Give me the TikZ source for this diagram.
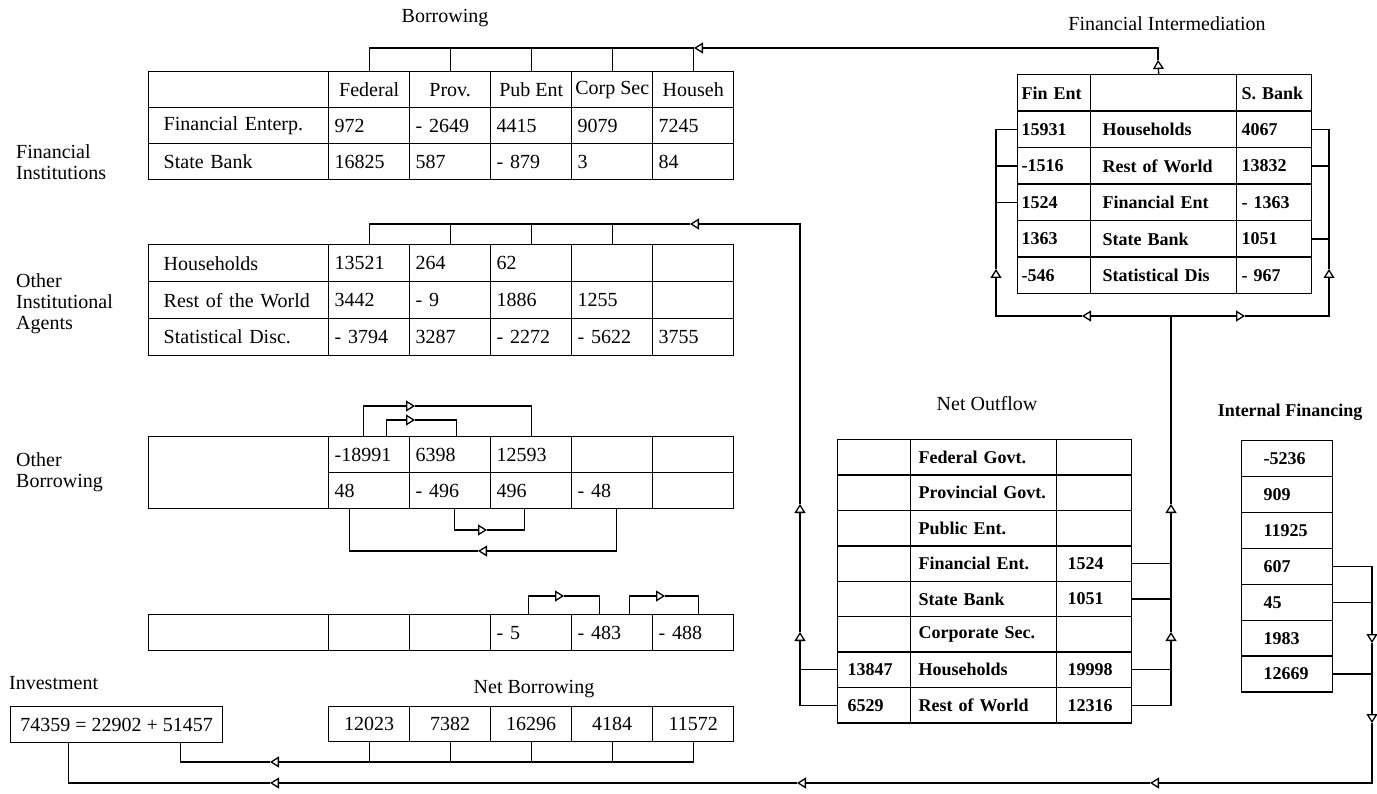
\documentclass[tikz,border=0pt]{standalone}
\usepackage{fontspec}
\setmainfont{Liberation Serif}
\usetikzlibrary{arrows.meta}
\tikzset{
  wire/.style  = {line width=1.3pt},
  flow/.style  = {line width=1.3pt, -{Triangle[open,length=9pt,width=11pt]}},
  cell/.style  = {draw, line width=1.4pt, anchor=north west, inner xsep=6pt, inner ysep=0pt,
                  text width=#1, minimum height=36pt, align=left},
  hcell/.style = {draw, line width=1.4pt, anchor=north west, inner sep=0pt,
                  minimum width=81pt, minimum height=36pt},
  heavy/.style = {font=\fontsize{18}{20}\selectfont\bfseries},
  sidelbl/.style = {anchor=west, align=left, inner sep=0pt}
}

\begin{document}
\begin{tikzpicture}[x=1pt,y=-1pt,font=\fontsize{20}{21}\selectfont]
  \useasboundingbox (0,0) rectangle (1377,794);

  % titles and side labels
  \node (ttlbor) at (445,18) {Borrowing};
  \node (ttlfi) at (1167,24) {Financial Intermediation};
  \node (ttlno) at (987,404) {Net Outflow};
  \node[font=\fontsize{18}{20}\selectfont\bfseries] (ttlif) at (1290,412) {Internal Financing};
  \node (ttlnb) at (534,689) {Net Borrowing};
  \node[sidelbl] (ttlinv) at (9,683) {Investment};
  \node[sidelbl] (lblfi) at (16,162) {Financial\\Institutions};
  \node[sidelbl] (lbloia) at (16,304) {Other\\Institutional\\Agents};
  \node[sidelbl] (lblob) at (16,472) {Other\\Borrowing};

  % borrowing of financial institutions
  \node[cell=150pt, inner xsep=15pt] (b00) at (148,71) {};
  \foreach \t [count=\i] in {Federal,Prov.,Pub Ent,Corp Sec,Househ}
    \node[hcell] (b0\i) at ({247+81*\i},71) {\t};
  \foreach \r/\lab/\vals in {1/Financial Enterp./{972,- 2649,4415,9079,7245},
                             2/State Bank/{16825,587,- 879,3,84}} {
    \node[cell=150pt, inner xsep=15pt] (b\r0) at (148,{71+36*\r}) {\lab};
    \foreach \v [count=\i] in \vals
      \node[cell=69pt] (b\r\i) at ({247+81*\i},{71+36*\r}) {\v};
  }

  % other institutional agents
  \foreach \r/\lab/\vals in {1/Households/{13521,264,62,{},{}},
                             2/Rest of the World/{3442,- 9,1886,1255,{}},
                             3/Statistical Disc./{- 3794,3287,- 2272,- 5622,3755}} {
    \node[cell=150pt, inner xsep=15pt, minimum height=37pt] (a\r0) at (148,{207+37*\r}) {\lab};
    \foreach \v [count=\i] in \vals
      \node[cell=69pt, minimum height=37pt] (a\r\i) at ({247+81*\i},{207+37*\r}) {\v};
  }

  % other borrowing
  \node[cell=150pt, inner xsep=15pt, minimum height=72pt] (o0) at (148,436) {};
  \foreach \r/\vals in {1/{-18991,6398,12593,{},{}}, 2/{48,- 496,496,- 48,{}}}
    \foreach \v [count=\i] in \vals
      \node[cell=69pt] (o\r\i) at ({247+81*\i},{400+36*\r}) {\v};

  \node[cell=150pt, inner xsep=15pt] (r0) at (148,614) {};
  \foreach \v [count=\i] in {{},{},- 5,- 483,- 488}
    \node[cell=69pt] (r\i) at ({247+81*\i},614) {\v};

  % investment and net borrowing
  \node[draw, line width=1.4pt, anchor=north west, inner sep=0pt,
        minimum width=212pt, minimum height=36pt] (inv) at (10,706) {74359 = 22902 + 51457};
  \foreach \v [count=\i] in {12023,7382,16296,4184,11572}
    \node[hcell, minimum height=35pt] (nb\i) at ({247+81*\i},706) {\v};

  % financial intermediation
  \foreach \r/\a/\b/\c in {0/Fin Ent/{}/S. Bank, 1/15931/Households/4067,
                           2/-1516/Rest of World/13832, 3/1524/Financial Ent/- 1363,
                           4/1363/State Bank/1051, 5/-546/Statistical Dis/- 967} {
    \node[cell=65pt, inner xsep=4pt, minimum height=36.5pt, heavy] (fl\r) at (1017,{74+36.5*\r}) {\a};
    \node[cell=122pt, inner xsep=12pt, minimum height=36.5pt, heavy] (fm\r) at (1090,{74+36.5*\r}) {\b};
    \node[cell=65pt, inner xsep=5pt, minimum height=36.5pt, heavy] (fr\r) at (1236,{74+36.5*\r}) {\c};
  }

  % net outflow
  \foreach \r/\a/\b/\c in {1/{}/Federal Govt./{}, 2/{}/Provincial Govt./{},
                           3/{}/Public Ent./{}, 4/{}/Financial Ent./1524,
                           5/{}/State Bank/1051, 6/{}/Corporate Sec./{},
                           7/13847/Households/19998, 8/6529/Rest of World/12316} {
    \node[cell=53pt, inner xsep=10pt, minimum height=35.4pt, heavy] (nl\r) at (837,{403.6+35.4*\r}) {\a};
    \node[cell=130pt, inner xsep=8pt, minimum height=35.4pt, heavy] (nm\r) at (910,{403.6+35.4*\r}) {\b};
    \node[cell=53pt, inner xsep=11pt, minimum height=35.4pt, heavy] (nr\r) at (1056,{403.6+35.4*\r}) {\c};
  }

  % internal financing
  \foreach \v [count=\r] in {-5236,909,11925,607,45,1983,12669}
    \node[cell=47pt, inner xsep=22pt, minimum height=35.9pt, heavy] (if\r) at (1241,{404.1+35.9*\r}) {\v};

  % connectors: financial intermediation to borrowing
  \coordinate (fiup) at (1158,60);
  \coordinate (btop) at (694,48);
  \draw[flow] ([xshift=-5pt]fm0.north) -- (fiup);
  \draw[flow] (fiup) |- (btop);
  \draw[wire] (btop) -- (btop -| b01.north);
  \foreach \i in {1,...,5}
    \draw[wire] (b0\i.north) -- (b0\i.north |- btop);

  % net outflow, left side, to other institutional agents
  \coordinate (atop) at (690,224);
  \coordinate (nla1) at (800,632);
  \coordinate (nla2) at (800,504);
  \draw[flow] (nl8.west) -| (nla1);
  \draw[flow] (nla1) -- (nla2);
  \draw[flow] (nla2) |- (atop);
  \draw[wire] (atop) -- (atop -| a11.north);
  \foreach \i in {1,...,4}
    \draw[wire] (a1\i.north) -- (a1\i.north |- atop);
  \draw[wire] (nl7.west) -- (nl7.west -| nla1);

  % net outflow, right side, to financial intermediation
  \coordinate (fij) at (1171,316);
  \coordinate (nra1) at (1171,632);
  \coordinate (nra2) at (1171,504);
  \draw[flow] (nr8.east) -| (nra1);
  \draw[flow] (nra1) -- (nra2);
  \draw[wire] (nra2) -- (fij);
  \foreach \r in {4,5,7}
    \draw[wire] (nr\r.east) -- (nr\r.east -| fij);

  \coordinate (fila) at (1082,316);
  \coordinate (fira) at (1245,316);
  \coordinate (filv) at (996,269);
  \coordinate (firv) at (1329,269);
  \draw[flow] (fij) -- (fila);
  \draw[flow] (fila) -| (filv);
  \draw[wire] (filv) |- (fl1.west);
  \foreach \r in {2,3}
    \draw[wire] (fl\r.west) -- (fl\r.west -| filv);
  \draw[flow] (fij) -- (fira);
  \draw[flow] (fira) -| (firv);
  \draw[wire] (firv) |- (fr1.east);
  \foreach \r in {2,4}
    \draw[wire] (fr\r.east) -- (fr\r.east -| firv);

  % internal financing to investment
  \coordinate (ifa1) at (1372,643);
  \coordinate (ifa2) at (1372,723);
  \coordinate (bta1) at (1150,783);
  \coordinate (bta2) at (797,783);
  \coordinate (bta3) at (270,783);
  \draw[flow] (if4.east) -| (ifa1);
  \draw[flow] (ifa1) -- (ifa2);
  \draw[flow] (ifa2) |- (bta1);
  \draw[flow] (bta1) -- (bta2);
  \draw[flow] (bta2) -- (bta3);
  \draw[wire] (bta3) -| ([xshift=-48pt]inv.south);
  \foreach \r in {5,7}
    \draw[wire] (if\r.east) -- (if\r.east -| ifa1);

  % net borrowing to investment
  \coordinate (nbl) at (270,762);
  \draw[flow] (nb5.south) |- (nbl);
  \draw[wire] (nbl) -| ([xshift=64pt]inv.south);
  \foreach \i in {1,...,4}
    \draw[wire] (nb\i.south) -- (nb\i.south |- nbl);

  % other borrowing loops
  \coordinate (oua) at (415,406);
  \coordinate (oub) at (415,420);
  \coordinate (ola) at (487,530);
  \coordinate (olb) at (478,551);
  \draw[flow] ([xshift=-6pt]o11.north) |- (oua);
  \draw[wire] (oua) -| (o13.north);
  \draw[flow] ([xshift=17pt]o11.north) |- (oub);
  \draw[wire] (oub) -| ([xshift=6pt]o12.north);
  \draw[flow] ([xshift=4pt]o22.south) |- (ola);
  \draw[wire] (ola) -| ([xshift=-7pt]o23.south);
  \draw[flow] ([xshift=4pt]o24.south) |- (olb);
  \draw[wire] (olb) -| ([xshift=-20pt]o21.south);

  \coordinate (ra) at (564,596);
  \coordinate (rb) at (665,596);
  \draw[flow] ([xshift=-3pt]r3.north) |- (ra);
  \draw[wire] (ra) -| ([xshift=-13pt]r4.north);
  \draw[flow] ([xshift=17pt]r4.north) |- (rb);
  \draw[wire] (rb) -| ([xshift=5pt]r5.north);
\end{tikzpicture}
\end{document}
